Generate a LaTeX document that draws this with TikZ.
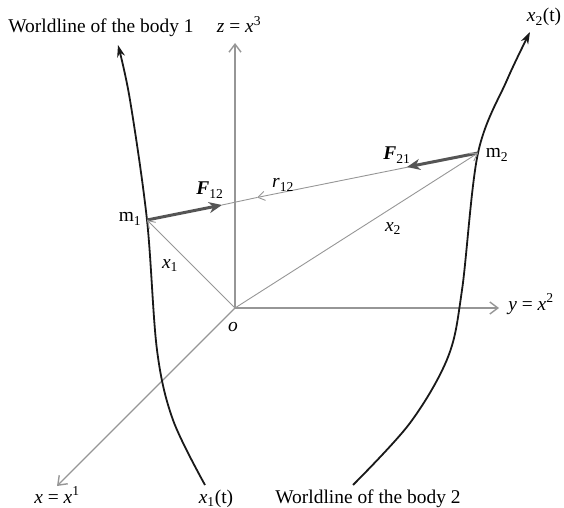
\documentclass[tikz,border=0pt]{standalone}
\usepackage{fontspec}
\setmainfont{Liberation Serif}
\usetikzlibrary{arrows.meta}
\definecolor{axisgray}{RGB}{150,150,150}
\definecolor{forcegray}{RGB}{85,85,85}
\definecolor{wlblack}{RGB}{25,25,25}
\begin{document}
\begin{tikzpicture}[x=1bp,y=-1bp,
  lab/.style={font=\fontsize{19.5}{22}\selectfont, inner sep=0pt, anchor=base},
  axis/.style={draw=axisgray, line width=1.4bp, -{Straight Barb[length=8bp,width=12bp]}},
  vec/.style={draw=axisgray, line width=0.9bp, -{Straight Barb[length=7bp,width=9bp]}},
  vecline/.style={draw=axisgray, line width=0.9bp},
  force/.style={draw=forcegray, line width=3bp, -{Stealth[length=13bp,width=11bp,inset=4bp]}},
  worldline/.style={draw=wlblack, line width=1.8bp, -{Stealth[length=12bp,width=8bp]}}]
\useasboundingbox (0,0) rectangle (564,508);
% points
\coordinate (O) at (235,308);
\coordinate (zend) at (235,43);
\coordinate (yend) at (499,308);
\coordinate (xend) at (57,486);
\coordinate (m1) at (147,220);
\coordinate (m2) at (478,153);
\coordinate (f12) at (222,205);
\coordinate (f21) at (407,167);
\coordinate (rmid) at (257,197.5);
% axes
\draw[axis] (O) -- (zend);
\draw[axis] (O) -- (yend);
\draw[axis] (O) -- (xend);
% relative vector r12
\draw[vec] (m2) -- (rmid);
\draw[vecline] (rmid) -- (f12);
% worldlines
\draw[worldline] plot[smooth,tension=0.55] coordinates {(205,485) (173,420) (157,350) (147,220) (130,100) (118,45)};
\draw[worldline] plot[smooth,tension=0.55] coordinates {(353,485) (410,423) (448,357) (462,290) (478,153) (507,80) (530,32)};
% forces
\draw[force] (m1) -- (f12);
\draw[force] (m2) -- (f21);
% position vectors
\draw[vec] (O) -- (m1);
\draw[vec] (O) -- (m2);
% labels
\node[lab] (wl1) at (101,33) {Worldline of the body 1};
\node[lab] (zlab) at (239,33) {\textit{z} = \textit{x}\textsuperscript{3}};
\node[lab] (x2t) at (544,22) {\textit{x}\textsubscript{2}(t)};
\node[lab] (m1lab) at (130,222) {m\textsubscript{1}};
\node[lab] (F12lab) at (210,195) {\textbf{\textit{F}}\textsubscript{12}};
\node[lab] (r12lab) at (283,188) {\textit{r}\textsubscript{12}};
\node[lab] (F21lab) at (397,160) {\textbf{\textit{F}}\textsubscript{21}};
\node[lab] (m2lab) at (497,158) {m\textsubscript{2}};
\node[lab] (x2lab) at (393,231) {\textit{x}\textsubscript{2}};
\node[lab] (x1lab) at (170,268) {\textit{x}\textsubscript{1}};
\node[lab] (olab) at (233,331) {\textit{o}};
\node[lab] (ylab) at (531,310) {\textit{y} = \textit{x}\textsuperscript{2}};
\node[lab] (xlab) at (57,503) {\textit{x} = \textit{x}\textsuperscript{1}};
\node[lab] (x1t) at (216,503) {\textit{x}\textsubscript{1}(t)};
\node[lab] (wl2) at (368,503) {Worldline of the body 2};
\end{tikzpicture}
\end{document}
